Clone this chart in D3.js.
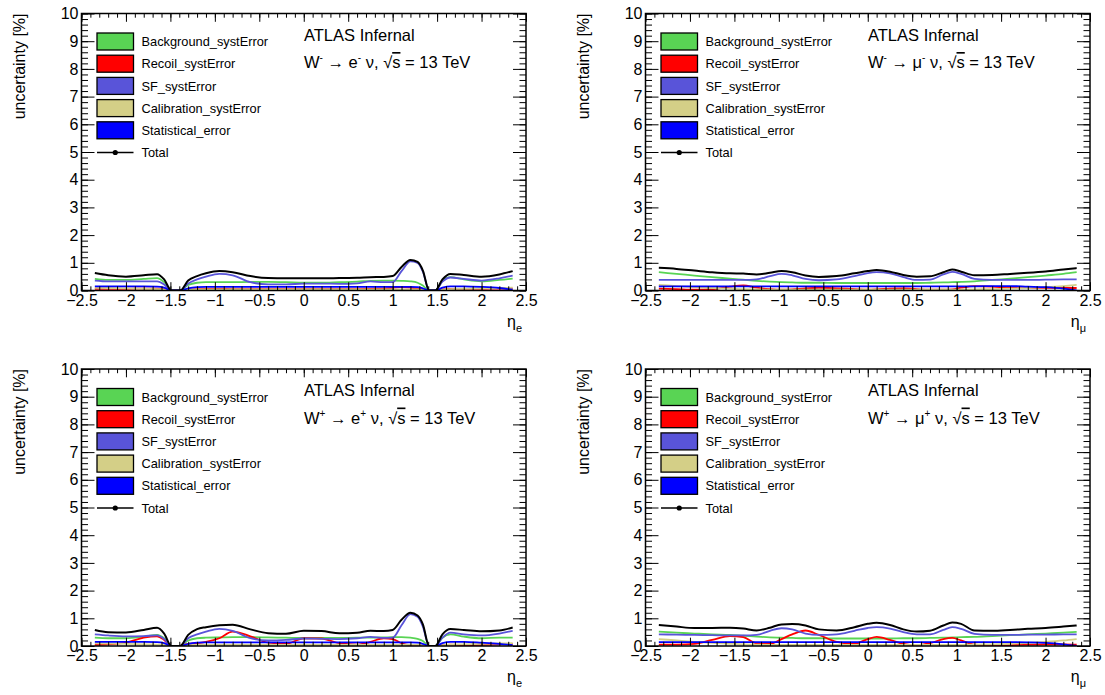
<!DOCTYPE html>
<html>
<head>
<meta charset="utf-8">
<script src="https://cdn.jsdelivr.net/npm/d3@7"></script>
<style>
  html, body { margin: 0; padding: 0; background: #fff; }
  svg { display: block; }
  text { font-family: "Liberation Sans", Arial, Helvetica, sans-serif; }
</style>
</head>
<body>
<svg id="chart" width="1105" height="695"></svg>
<script>
// ---------------- DATA ----------------
const seriesNames = ["Background_systError", "Recoil_systError", "SF_systError", "Calibration_systError", "Statistical_error", "Total"];
const seriesColors = ["#59d454", "#ff0000", "#5954d9", "#d4cf87", "#0000ff", "#000000"];

const xTickValues = [-2.5, -2, -1.5, -1, -0.5, 0, 0.5, 1, 1.5, 2, 2.5];
const yTickValues = [0, 1, 2, 3, 4, 5, 6, 7, 8, 9, 10];

// eta grid for electron channels
const etaE = [-2.35, -2.2, -2.0, -1.8, -1.65, -1.57, -1.49, -1.39, -1.3, -1.2, -1.1, -0.95, -0.8, -0.6, -0.4, -0.2, 0, 0.2, 0.4, 0.6, 0.75, 0.9, 1.0, 1.1, 1.2, 1.28, 1.34, 1.41, 1.48, 1.56, 1.65, 1.8, 2.0, 2.2, 2.35];
// eta grid for muon channels
const etaMu = [-2.35, -2.15, -1.95, -1.75, -1.55, -1.4, -1.25, -1.1, -0.97, -0.85, -0.7, -0.55, -0.35, -0.15, 0, 0.1, 0.25, 0.4, 0.55, 0.7, 0.85, 0.95, 1.05, 1.2, 1.4, 1.6, 1.8, 2.0, 2.2, 2.35];

// W- -> e- nu
const bkgEm  = [0.42,0.38,0.38,0.42,0.45,0.30,0,0,0.20,0.28,0.30,0.30,0.30,0.31,0.31,0.30,0.28,0.28,0.30,0.32,0.35,0.36,0.36,0.35,0.33,0.28,0.18,0,0,0.35,0.48,0.40,0.33,0.38,0.43];
const recEm  = [0.06,0.06,0.06,0.07,0.07,0.05,0,0,0.03,0.05,0.06,0.06,0.05,0.05,0.05,0.05,0.05,0.05,0.05,0.05,0.06,0.07,0.10,0.12,0.10,0.07,0.04,0,0,0.04,0.06,0.06,0.06,0.07,0.07];
const sfEm   = [0.36,0.33,0.33,0.33,0.33,0.22,0,0,0.25,0.40,0.50,0.60,0.55,0.30,0.22,0.22,0.25,0.25,0.24,0.26,0.33,0.30,0.30,0.70,1.05,1.00,0.68,0,0,0.32,0.47,0.42,0.36,0.44,0.54];
const calEm  = [0.10,0.09,0.08,0.06,0.05,0.04,0,0,0.03,0.04,0.04,0.04,0.04,0.04,0.04,0.04,0.04,0.04,0.04,0.04,0.04,0.04,0.04,0.04,0.04,0.04,0.03,0,0,0.03,0.05,0.06,0.08,0.09,0.10];
const statEm = [0.15,0.15,0.15,0.15,0.14,0.10,0,0,0.08,0.12,0.13,0.13,0.13,0.13,0.13,0.13,0.13,0.13,0.13,0.13,0.13,0.13,0.13,0.13,0.13,0.12,0.08,0,0,0.10,0.15,0.15,0.13,0.09,0.03];
const totEm  = [0.63,0.55,0.50,0.55,0.59,0.40,0,0,0.36,0.52,0.62,0.70,0.66,0.52,0.45,0.44,0.44,0.44,0.45,0.46,0.48,0.49,0.52,0.85,1.10,1.03,0.72,0,0,0.40,0.60,0.56,0.50,0.58,0.70];

// W- -> mu- nu
const bkgMm  = [0.66,0.60,0.54,0.48,0.43,0.39,0.35,0.32,0.30,0.29,0.28,0.28,0.27,0.27,0.27,0.27,0.27,0.27,0.27,0.28,0.29,0.30,0.31,0.33,0.38,0.43,0.48,0.54,0.60,0.66];
const recMm  = [0.07,0.05,0.03,0.05,0.14,0.18,0.10,0.05,0.03,0.04,0.08,0.10,0.08,0.05,0.03,0.04,0.07,0.08,0.05,0.03,0.03,0.04,0.10,0.16,0.14,0.10,0.09,0.10,0.10,0.09];
const sfMm   = [0.38,0.38,0.38,0.38,0.38,0.38,0.40,0.52,0.60,0.55,0.42,0.37,0.40,0.52,0.63,0.66,0.62,0.48,0.38,0.39,0.58,0.67,0.60,0.42,0.38,0.38,0.38,0.39,0.40,0.40];
const calMm  = [0.20,0.16,0.12,0.09,0.07,0.05,0.04,0.03,0.03,0.03,0.03,0.03,0.03,0.03,0.03,0.03,0.03,0.03,0.03,0.03,0.03,0.03,0.03,0.04,0.05,0.07,0.09,0.12,0.16,0.20];
const statMm = [0.15,0.15,0.15,0.15,0.15,0.15,0.15,0.15,0.15,0.15,0.15,0.15,0.15,0.15,0.15,0.15,0.15,0.15,0.15,0.15,0.15,0.15,0.15,0.15,0.16,0.16,0.14,0.12,0.07,0.0];
const totMm  = [0.82,0.78,0.72,0.66,0.62,0.61,0.58,0.64,0.70,0.66,0.54,0.49,0.52,0.62,0.70,0.74,0.68,0.56,0.50,0.51,0.66,0.76,0.68,0.55,0.56,0.60,0.64,0.69,0.76,0.81];

// W+ -> e+ nu
const bkgEp  = [0.30,0.28,0.28,0.34,0.40,0.28,0,0,0.20,0.28,0.30,0.31,0.32,0.32,0.31,0.30,0.29,0.29,0.29,0.30,0.30,0.31,0.32,0.32,0.30,0.26,0.18,0,0,0.30,0.42,0.34,0.28,0.30,0.30];
const recEp  = [0.04,0.06,0.12,0.30,0.35,0.22,0,0,0.08,0.10,0.15,0.28,0.52,0.35,0.12,0.08,0.28,0.27,0.10,0.05,0.15,0.28,0.25,0.10,0.03,0.02,0.02,0,0,0.03,0.05,0.03,0.04,0.06,0.08];
const sfEp   = [0.42,0.38,0.35,0.36,0.38,0.25,0,0,0.28,0.42,0.52,0.62,0.55,0.28,0.20,0.22,0.27,0.26,0.25,0.28,0.33,0.29,0.30,0.75,1.15,1.05,0.70,0,0,0.30,0.48,0.42,0.38,0.45,0.55];
const calEp  = [0.10,0.09,0.08,0.06,0.05,0.04,0,0,0.03,0.04,0.04,0.04,0.04,0.04,0.04,0.04,0.04,0.04,0.04,0.04,0.04,0.04,0.04,0.04,0.04,0.04,0.03,0,0,0.03,0.05,0.06,0.08,0.09,0.10];
const statEp = [0.15,0.15,0.15,0.15,0.14,0.10,0,0,0.08,0.12,0.13,0.13,0.13,0.13,0.13,0.13,0.13,0.13,0.13,0.13,0.13,0.13,0.13,0.13,0.13,0.12,0.08,0,0,0.10,0.15,0.15,0.12,0.08,0.03];
const totEp  = [0.58,0.50,0.49,0.58,0.66,0.45,0,0,0.40,0.61,0.68,0.75,0.77,0.60,0.46,0.44,0.55,0.54,0.46,0.48,0.55,0.54,0.58,0.95,1.20,1.10,0.78,0,0,0.42,0.61,0.58,0.53,0.56,0.67];

// W+ -> mu+ nu
const bkgMp  = [0.52,0.48,0.45,0.42,0.40,0.37,0.34,0.31,0.30,0.29,0.28,0.28,0.27,0.27,0.27,0.27,0.27,0.28,0.28,0.29,0.30,0.31,0.32,0.33,0.36,0.39,0.42,0.45,0.48,0.51];
const recMp  = [0.05,0.05,0.08,0.22,0.36,0.32,0.10,0.08,0.25,0.42,0.56,0.40,0.15,0.08,0.25,0.33,0.22,0.08,0.03,0.10,0.25,0.29,0.20,0.05,0.02,0.03,0.05,0.06,0.06,0.05];
const sfMp   = [0.42,0.41,0.40,0.39,0.38,0.38,0.40,0.55,0.64,0.60,0.45,0.40,0.42,0.55,0.65,0.68,0.63,0.50,0.42,0.42,0.58,0.68,0.62,0.44,0.40,0.40,0.41,0.41,0.42,0.42];
const calMp  = [0.25,0.20,0.15,0.11,0.08,0.06,0.05,0.04,0.04,0.04,0.04,0.04,0.04,0.04,0.04,0.04,0.04,0.04,0.04,0.04,0.04,0.04,0.04,0.05,0.06,0.08,0.11,0.15,0.20,0.25];
const statMp = [0.14,0.14,0.14,0.14,0.14,0.14,0.14,0.14,0.14,0.14,0.14,0.14,0.14,0.14,0.14,0.14,0.14,0.14,0.14,0.14,0.14,0.14,0.14,0.14,0.14,0.14,0.13,0.11,0.06,0.0];
const totMp  = [0.76,0.70,0.65,0.65,0.66,0.63,0.56,0.66,0.78,0.79,0.74,0.60,0.56,0.68,0.80,0.84,0.76,0.60,0.52,0.55,0.74,0.85,0.80,0.56,0.55,0.58,0.62,0.65,0.70,0.74];

// ---------------- LAYOUT ----------------
const panels = [
  { x0: 81.5,  y0: 13.5, eta: etaE,  series: [bkgEm, recEm, sfEm, calEm, statEm, totEm], sign: "-", lep: "e", sub: "e" },
  { x0: 645.5, y0: 13.5, eta: etaMu, series: [bkgMm, recMm, sfMm, calMm, statMm, totMm], sign: "-", lep: "μ", sub: "μ" },
  { x0: 81.5,  y0: 369,  eta: etaE,  series: [bkgEp, recEp, sfEp, calEp, statEp, totEp], sign: "+", lep: "e", sub: "e" },
  { x0: 645.5, y0: 369,  eta: etaMu, series: [bkgMp, recMp, sfMp, calMp, statMp, totMp], sign: "+", lep: "μ", sub: "μ" }
];
const W = 444.5, H = 277;
const svg = d3.select("#chart");

const xMinor = d3.range(-25, 26).map(d => d / 10);
const yMinor = d3.range(0, 51).map(d => d / 5);

panels.forEach((p, pi) => {
  const g = svg.append("g").attr("transform", `translate(${p.x0},${p.y0})`);
  const x = d3.scaleLinear().domain([-2.5, 2.5]).range([0, W]);
  const y = d3.scaleLinear().domain([0, 10]).range([H, 0]);

  const clipId = "clip" + pi;
  g.append("clipPath").attr("id", clipId).append("rect").attr("width", W).attr("height", H);

  // curves
  const line = d3.line().x((d, i) => x(p.eta[i])).y(d => y(d)).curve(d3.curveMonotoneX);
  const cg = g.append("g").attr("clip-path", `url(#${clipId})`);
  p.series.forEach((vals, si) => {
    cg.append("path").datum(vals)
      .attr("d", line)
      .attr("fill", "none")
      .attr("stroke", seriesColors[si])
      .attr("stroke-width", si === 5 ? 2 : 1.8)
      .attr("stroke-linejoin", "round");
  });

  // axes: major and minor ticks, all pointing inward
  const styleAxis = sel => {
    sel.select(".domain").remove();
    sel.selectAll("line").attr("stroke", "#000").attr("stroke-width", 1);
    sel.selectAll("text").attr("font-size", "16px").attr("fill", "#000")
      .attr("font-family", '"Liberation Sans", Arial, sans-serif');
  };
  // bottom
  g.append("g").attr("transform", `translate(0,${H})`)
    .call(d3.axisBottom(x).tickValues(xMinor).tickSize(-4.2).tickFormat(""))
    .call(styleAxis);
  g.append("g").attr("transform", `translate(0,${H})`)
    .call(d3.axisBottom(x).tickValues(xTickValues).tickSize(-8.3).tickPadding(4).tickFormat(d3.format("")))
    .call(styleAxis);
  // top
  g.append("g")
    .call(d3.axisTop(x).tickValues(xMinor).tickSize(-4.2).tickFormat(""))
    .call(styleAxis);
  g.append("g")
    .call(d3.axisTop(x).tickValues(xTickValues).tickSize(-8.3).tickFormat(""))
    .call(styleAxis);
  // left
  g.append("g")
    .call(d3.axisLeft(y).tickValues(yMinor).tickSize(-6.5).tickFormat(""))
    .call(styleAxis);
  g.append("g")
    .call(d3.axisLeft(y).tickValues(yTickValues).tickSize(-13).tickPadding(3).tickFormat(d3.format("d")))
    .call(styleAxis);
  // right
  g.append("g").attr("transform", `translate(${W},0)`)
    .call(d3.axisRight(y).tickValues(yMinor).tickSize(-6.5).tickFormat(""))
    .call(styleAxis);
  g.append("g").attr("transform", `translate(${W},0)`)
    .call(d3.axisRight(y).tickValues(yTickValues).tickSize(-13).tickFormat(""))
    .call(styleAxis);

  // frame
  g.append("rect").attr("width", W).attr("height", H)
    .attr("fill", "none").attr("stroke", "#000").attr("stroke-width", 1.5);

  // y title
  g.append("text")
    .attr("transform", `translate(-56.5,0) rotate(-90)`)
    .attr("text-anchor", "end")
    .attr("font-size", "16px")
    .text("uncertainty [%]");

  // x title
  const xt = g.append("text").attr("x", W - 4).attr("y", H + 36).attr("text-anchor", "end").attr("font-size", "16px");
  xt.append("tspan").text("η");
  xt.append("tspan").attr("dy", 5).attr("font-size", "11px").text(p.sub);

  // ATLAS labels
  g.append("text").attr("x", 222.5).attr("y", 27).attr("font-size", "16.5px").text("ATLAS Infernal");
  const t2 = g.append("text").attr("x", 222.5).attr("y", 54.5).attr("font-size", "16.5px");
  t2.append("tspan").text("W");
  t2.append("tspan").attr("dy", -7).attr("font-size", "10px").text(p.sign);
  t2.append("tspan").attr("dy", 7).text(" → " + p.lep);
  t2.append("tspan").attr("dy", -7).attr("font-size", "10px").text(p.sign);
  t2.append("tspan").attr("dy", 7).text(" ν, √");
  t2.append("tspan").attr("text-decoration", "overline").text("s");
  t2.append("tspan").text(" = 13 TeV");

  // legend
  const lg = g.append("g").attr("transform", "translate(15.5,28)");
  seriesNames.forEach((name, i) => {
    const row = lg.append("g").attr("transform", `translate(0,${i * 22.2})`);
    if (i < 5) {
      row.append("rect").attr("x", 0).attr("y", -8.5).attr("width", 36.5).attr("height", 17)
        .attr("fill", seriesColors[i]).attr("stroke", "#000").attr("stroke-width", 1.3);
    } else {
      row.append("line").attr("x1", 0).attr("x2", 36.5).attr("y1", 0).attr("y2", 0)
        .attr("stroke", "#000").attr("stroke-width", 1.5);
      row.append("circle").attr("cx", 18.25).attr("cy", 0).attr("r", 2.6).attr("fill", "#000");
    }
    row.append("text").attr("x", 44.5).attr("y", 4.6).attr("font-size", "12.8px").text(name);
  });
});
</script>
</body>
</html>
